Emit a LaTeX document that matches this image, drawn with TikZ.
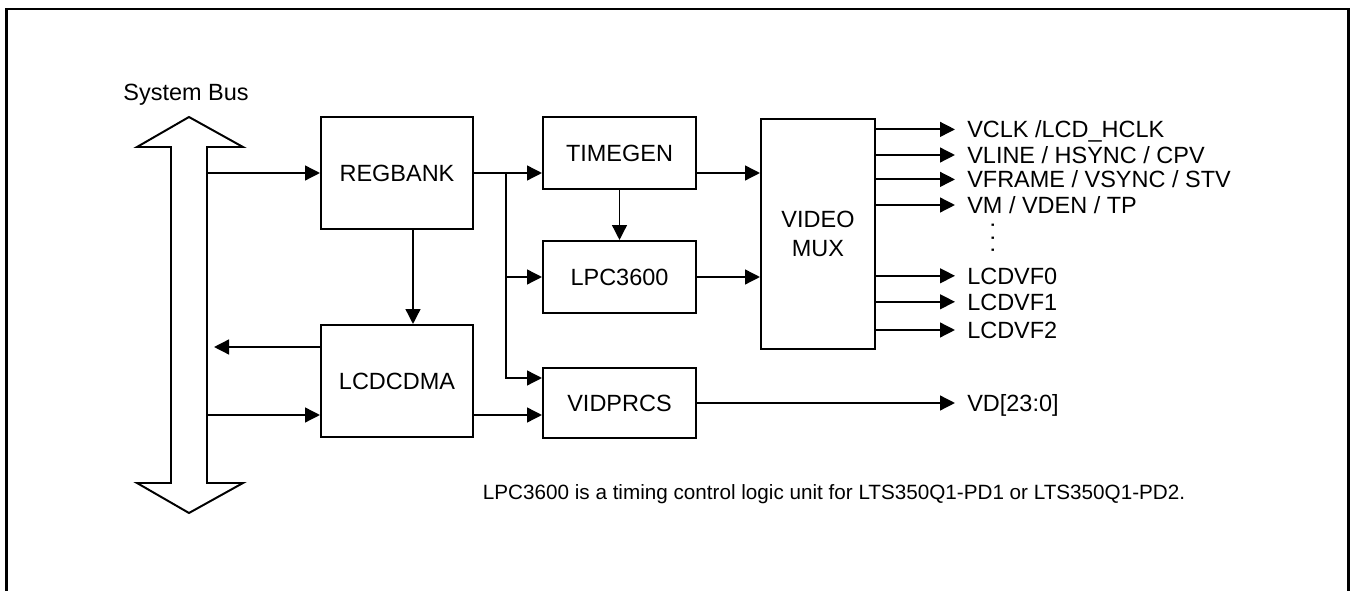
\documentclass[tikz,border=0pt]{standalone}
\usepackage{fontspec}
\setmainfont{Liberation Sans}
\usetikzlibrary{arrows.meta}

\newcommand{\blkfont}{\fontsize{16.7}{20.1}\selectfont}
\newcommand{\remfont}{\fontsize{14.7}{17}\selectfont}

\tikzset{
	block/.style={draw,line width=1.4pt,font=\blkfont,align=center},
	sig/.style={anchor=west,inner xsep=0.3cm,inner ysep=0pt,font=\blkfont,text height=12pt,text depth=0pt},
	arr/.style={line width=1.4pt,-{Triangle[length=0.375cm,width=0.37cm]}}
}

\begin{document}
\begin{tikzpicture}

	\useasboundingbox (0,0) rectangle (33.875,14.775);

	% frame
	\draw[line width=2.1pt] (0.16,0) -- (0.16,14.55) -- (33.72,14.55) -- (33.72,0);

	% system bus
	\draw[line width=1.4pt,line join=miter]
		(4.275,11.1) -- (3.425,11.1) -- (4.725,11.85) -- (6.075,11.1)
		-- (5.175,11.1) -- (5.175,2.7) -- (6.075,2.7) -- (4.725,1.95)
		-- (3.425,2.7) -- (4.275,2.7) -- cycle;
	\coordinate (bus) at (5.175,0);
	\coordinate (bustip) at (5.35,0);
	\node[font=\blkfont,anchor=base] (sysbus) at (4.65,12.26) {System Bus};

	% blocks
	\node[block,minimum width=3.8cm,minimum height=2.8cm] (regbank) at (9.925,10.45) {REGBANK};
	\node[block,minimum width=3.8cm,minimum height=2.8cm] (lcdcdma) at (9.925,5.25) {LCDCDMA};
	\node[block,minimum width=3.825cm,minimum height=1.8cm] (timegen) at (15.4875,10.95) {TIMEGEN};
	\node[block,minimum width=3.825cm,minimum height=1.8cm] (lpc) at (15.4875,7.85) {LPC3600};
	\node[block,minimum width=3.825cm,minimum height=1.75cm] (vidprcs) at (15.4875,4.7) {VIDPRCS};
	\node[block,minimum width=2.85cm,minimum height=5.75cm] (mux) at (20.45,8.925) {VIDEO\\MUX};

	% bus side
	\draw[arr] (bus |- regbank) -- (regbank.west);
	\draw[arr] ([yshift=0.85cm]lcdcdma.west) -- ([yshift=0.85cm]lcdcdma.west -| bustip);
	\draw[arr] ([yshift=-0.85cm]lcdcdma.west -| bus) -- ([yshift=-0.85cm]lcdcdma.west);
	\draw[arr] ([xshift=0.4cm]regbank.south) -- ([xshift=0.4cm]lcdcdma.north);

	% regbank fan out
	\coordinate (split) at ([xshift=0.8cm]regbank.east);
	\draw[arr] (regbank.east) -- (regbank.east -| timegen.west);
	\draw[arr] (split) |- ([yshift=0.625cm]vidprcs.west);
	\draw[arr] (split |- lpc) -- (lpc.west);
	\draw[arr] ([yshift=-0.85cm]lcdcdma.east) -- ([yshift=-0.85cm]lcdcdma.east -| vidprcs.west);
	\draw[arr] (timegen) -- (lpc);
	\draw[arr] ([yshift=-0.5cm]timegen.east) -- ([yshift=-0.5cm]timegen.east -| mux.west);
	\draw[arr] (lpc.east) -- (lpc.east -| mux.west);

	% outputs
	\node[sig] (vclk) at (23.875,11.54) {VCLK /LCD\_HCLK};
	\node[sig] (vline) at (23.875,10.9) {VLINE / HSYNC / CPV};
	\node[sig] (vframe) at (23.875,10.29) {VFRAME / VSYNC / STV};
	\node[sig] (vm) at (23.875,9.65) {VM / VDEN / TP};
	\node[font=\blkfont,rotate=90,inner sep=0pt] (dots) at (24.82,8.83) {.\hspace{4pt}.\hspace{4pt}.};
	\node[sig] (vf0) at (23.875,7.88) {LCDVF0};
	\node[sig] (vf1) at (23.875,7.23) {LCDVF1};
	\node[sig] (vf2) at (23.875,6.525) {LCDVF2};
	\node[sig] (vd) at (23.875,4.7) {VD[23:0]};

	\draw[arr] (mux.east |- vclk) -- (vclk);
	\draw[arr] (mux.east |- vline) -- (vline);
	\draw[arr] (mux.east |- vframe) -- (vframe);
	\draw[arr] (mux.east |- vm) -- (vm);
	\draw[arr] (mux.east |- vf0) -- (vf0);
	\draw[arr] (mux.east |- vf1) -- (vf1);
	\draw[arr] (mux.east |- vf2) -- (vf2);
	\draw[arr] (vidprcs) -- (vd);

	\node[font=\remfont,anchor=base west] (note) at (11.95,2.275)
		{LPC3600 is a timing control logic unit for LTS350Q1-PD1 or LTS350Q1-PD2.};

\end{tikzpicture}
\end{document}
